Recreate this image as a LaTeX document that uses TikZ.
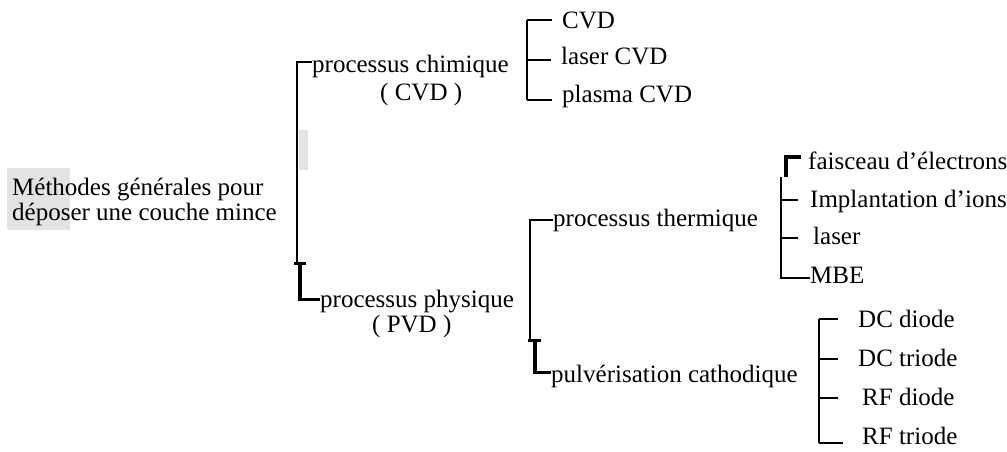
\documentclass[tikz,border=0pt]{standalone}
\usepackage{fontspec}
\setmainfont{Liberation Serif}
\begin{document}
\begin{tikzpicture}[x=1pt,y=-1pt,
  lbl/.style={anchor=base west, inner sep=0pt, font=\fontsize{25}{25}\selectfont},
  br/.style={line width=2pt},
  heavy/.style={line width=4pt},
  serifbar/.style={line width=3pt}]
\useasboundingbox (0,0) rectangle (1007,451);
% grey highlight patches
\fill[gray!22] (7,168) rectangle (70,230);
\fill[gray!22] (299,130) rectangle (308,170);

% texts
\node[lbl, anchor=west, align=left] (root) at (12,202) {Méthodes générales pour\\déposer une couche mince};
\node[lbl] (chim) at (312,72) {processus chimique};
\node[lbl] (chimb) at (380,100) {( CVD )};
\node[lbl] (phys) at (320,307) {processus physique};
\node[lbl] (physb) at (372,332) {( PVD )};
\node[lbl] (c1) at (562,28) {CVD};
\node[lbl] (c2) at (561,64) {laser CVD};
\node[lbl] (c3) at (562,102) {plasma CVD};
\node[lbl] (therm) at (553,226) {processus thermique};
\node[lbl] (pulv) at (551,382) {pulvérisation cathodique};
\node[lbl] (t1) at (808,169) {faisceau d'électrons};
\node[lbl] (t2) at (810,207) {Implantation d'ions};
\node[lbl] (t3) at (813,244) {laser};
\node[lbl] (t4) at (810,283) {MBE};
\node[lbl] (s1) at (858,327) {DC diode};
\node[lbl] (s2) at (858,366) {DC triode};
\node[lbl] (s3) at (862,405) {RF diode};
\node[lbl] (s4) at (862,444) {RF triode};

% main bracket
\coordinate (mT) at (297,62);
\coordinate (mB) at (297,263);
\coordinate (mL) at (300,263);
\coordinate (mLb) at (300,299);
\draw[br] (chim.west |- mT) -- (mT) -- (mB);
\draw[serifbar] (294,263.5) -- (306,263.5);
\draw[heavy] (mL) -- (mLb);
\draw[serifbar] (298,299) -- (phys.west |- mLb);

% CVD bracket
\coordinate (cT) at (527,20);
\coordinate (cM) at (527,60);
\coordinate (cB) at (527,100);
\draw[br, shorten >=10pt] (cT) -- (c1.west |- cT);
\draw[br] (cT) -- (cB);
\draw[br, shorten >=10pt] (cM) -- (c2.west |- cM);
\draw[br, shorten >=10pt] (cB) -- (c3.west |- cB);

% PVD bracket
\coordinate (pT) at (530,220);
\coordinate (pB) at (530,340);
\coordinate (pL) at (535,340);
\coordinate (pLb) at (535,372);
\draw[br] (therm.west |- pT) -- (pT) -- (pB);
\draw[serifbar] (528,340.5) -- (541,340.5);
\draw[heavy] (pL) -- (pLb);
\draw[serifbar] (533,372) -- (pulv.west |- pLb);

% thermal bracket
\coordinate (tT) at (781,177);
\coordinate (t2c) at (781,200);
\coordinate (t3c) at (781,238);
\coordinate (tB) at (781,278);
\draw[heavy] (786,177) -- (786,157) -- (801,157);
\draw[br] (tT) -- (tB) -- (t4.west |- tB);
\draw[br, shorten >=12pt] (t2c) -- (t2.west |- t2c);
\draw[br, shorten >=15pt] (t3c) -- (t3.west |- t3c);

% sputtering bracket
\coordinate (sT) at (819,319);
\coordinate (s2c) at (819,359);
\coordinate (s3c) at (819,398);
\coordinate (sB) at (819,443);
\draw[br, shorten >=20pt] (sT) -- (s1.west |- sT);
\draw[br] (sT) -- (sB);
\draw[br, shorten >=20pt] (s2c) -- (s2.west |- s2c);
\draw[br, shorten >=24pt] (s3c) -- (s3.west |- s3c);
\draw[br, shorten >=19pt] (sB) -- (s4.west |- sB);
\end{tikzpicture}
\end{document}
